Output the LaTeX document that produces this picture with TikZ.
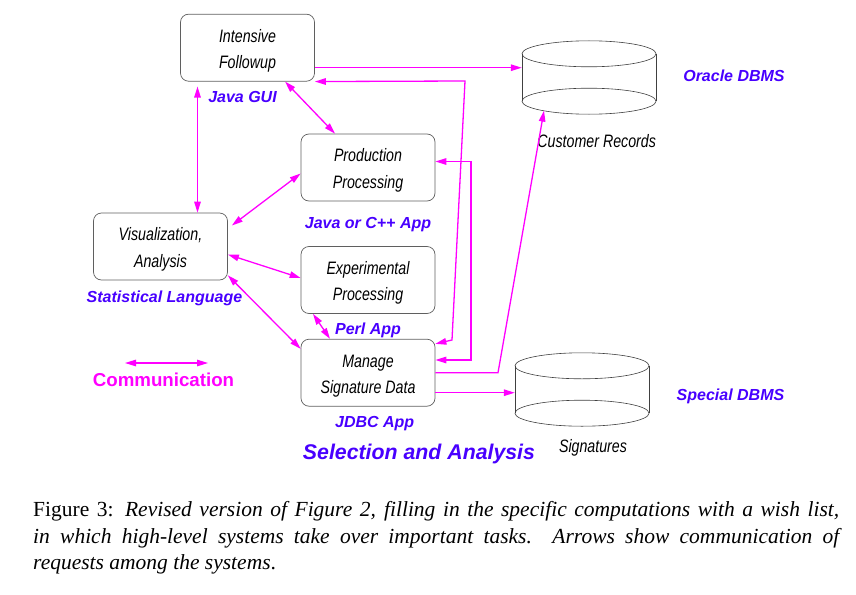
\documentclass[tikz,border=0pt]{standalone}
\usepackage{fontspec}
\setmainfont{Liberation Serif}
\newfontfamily\narrowsans[FakeStretch=0.79]{Liberation Sans}
\newfontfamily\labelsans{Liberation Sans}
\usepackage{tikz}
\usetikzlibrary{
        arrows.meta,
        calc,
        positioning
    }
\definecolor{commcol}{RGB}{255,0,255}
\definecolor{appcol}{RGB}{72,0,255}
\definecolor{boxline}{RGB}{95,95,95}
\newcommand{\toproom}{\rule{0pt}{19pt}}
\tikzset{>={Triangle[length=11pt,width=6.5pt]},shorten >=0pt}
\tikzset{proc/.style={draw=boxline,line width=0.7pt,rounded corners=8pt,
    minimum width=134pt,minimum height=67pt,align=center,inner sep=0pt,
    font=\narrowsans\itshape\fontsize{18}{26.5}\selectfont}}
\tikzset{app/.style={text=appcol,anchor=base,inner sep=0pt,
    font=\labelsans\bfseries\itshape\fontsize{16}{19}\selectfont}}
\tikzset{dbname/.style={anchor=base,inner sep=0pt,
    font=\narrowsans\itshape\fontsize{18}{22}\selectfont}}
\tikzset{comm/.style={draw=commcol,line width=1.3pt}}
\tikzset{dbline/.style={draw=black!75,line width=0.6pt}}
\tikzset{dbnode/.style={minimum width=134pt,minimum height=73pt,inner sep=0pt}}
\newcommand{\dbcyl}[2]{%
  \node[dbnode] (#1) at (#2) {};
  \draw[dbline] ([yshift=-13pt]#1.north) ellipse [x radius=67pt,y radius=13pt];
  \draw[dbline] ([yshift=13pt]#1.south) ellipse [x radius=67pt,y radius=13pt];
  \draw[dbline] ([yshift=-13pt]#1.north west) -- ([yshift=13pt]#1.south west);
  \draw[dbline] ([yshift=-13pt]#1.north east) -- ([yshift=13pt]#1.south east);
}
\begin{document}
\begin{tikzpicture}[x=1pt,y=-1pt]
                \useasboundingbox (0,0) rectangle (856,594);
                % processing boxes
                \node[proc] (ifu)  at (247.5,47.7)  {\toproom Intensive\\Followup};
                \node[proc] (prod) at (368,167.5)   {\toproom Production\\Processing};
                \node[proc] (vis)  at (160.5,246.5) {\toproom Visualization,\\Analysis};
                \node[proc] (exp)  at (368,280)     {\toproom Experimental\\Processing};
                \node[proc] (mng)  at (368,372.7)   {\toproom Manage\\Signature Data};
                % databases
                \dbcyl{ora}{589,77.5}
                \dbcyl{sig}{582,389.5}
                \node[dbname] (crec) at ([xshift=7.7pt,yshift=-33.7pt]ora.south) {Customer Records};
                \node[dbname] (sigs) at ([xshift=11pt,yshift=-26pt]sig.south) {Signatures};
                % system labels
                \node[app] (jgui) at ([xshift=-5pt,yshift=-20.7pt]ifu.south) {Java GUI};
                \node[app] (japp) at ([yshift=-27.6pt]prod.south) {Java or C++ App};
                \node[app] (stat) at ([xshift=4pt,yshift=-21.7pt]vis.south) {Statistical Language};
                \node[app] (perl) at ([yshift=-20.7pt]exp.south) {Perl App};
                \node[app] (jdbc) at ([xshift=6.7pt,yshift=-20.7pt]mng.south) {JDBC App};
                \node[app] (odb)  at (734,81.7) {Oracle DBMS};
                \node[app] (sdb)  at (730.5,400) {Special DBMS};
                \node[app,font=\labelsans\bfseries\itshape\fontsize{21.3}{25}\selectfont]
                    (sela) at (419,459) {Selection and Analysis};
                % legend
                \coordinate (lga) at (125,363);
                \coordinate (lgb) at (208,363);
                \draw[comm,<->] (lga) -- (lgb);
                \node[anchor=base,inner sep=0pt,text=commcol,
                    font=\labelsans\bfseries\fontsize{18.7}{22}\selectfont]
                    (lgt) at (163.5,386) {Communication};
                % routing points
                \coordinate (ifo) at ([yshift=-20pt]ifu.east);
                \coordinate (r1a) at (465,81);
                \coordinate (r1b) at (452,340);
                \coordinate (r2b) at (471,360);
                \coordinate (r3a) at (498,372.7);
                \coordinate (crb) at (544,110.6);
                \coordinate (msg) at ([yshift=-20pt]mng.east);
                \coordinate (iv)  at ([xshift=-50pt]ifu.south);
                % communication
                \draw[comm,->] (ifo) -- (ifo -| ora.west);
                \draw[comm,<->] (ifu.south east) -- (r1a) -- (r1b) -- ([yshift=-5pt]mng.north east);
                \draw[comm,<->] ([yshift=6pt]prod.east) -| (r2b) -- ([yshift=12.7pt]mng.east);
                \draw[comm,->] (mng.east) -- (r3a) -- (crb);
                \draw[comm,->] (msg) -- (msg -| sig.west);
                \draw[comm,<->] ([yshift=-5pt]iv) -- (iv |- vis.north);
                \draw[comm,<->] ([xshift=37.5pt]ifu.south) -- ([xshift=-33pt]prod.north);
                \draw[comm,<->] ([xshift=4pt,yshift=21pt]vis.east) -- ([yshift=-6pt]prod.west);
                \draw[comm,<->] ([yshift=-8pt]vis.east) -- ([yshift=2pt]exp.west);
                \draw[comm,<->] ([yshift=5pt]vis.south east) -- ([yshift=-10pt]mng.north west);
                \draw[comm,<->] ([xshift=-55pt]exp.south) -- ([xshift=-38pt]mng.north);
                % caption
                \node[anchor=north west,inner sep=0pt,text width=806pt,align=justify,
                    font=\fontsize{21.5}{26.7}\selectfont] (cap) at (33,501)
                    {Figure 3: \textit{Revised version of Figure 2, filling in the specific computations with a wish list,\linebreak
                    in which high-level systems take over important tasks.\ \ Arrows show communication of\linebreak
                    requests among the systems}.};
            \end{tikzpicture}
\end{document}
